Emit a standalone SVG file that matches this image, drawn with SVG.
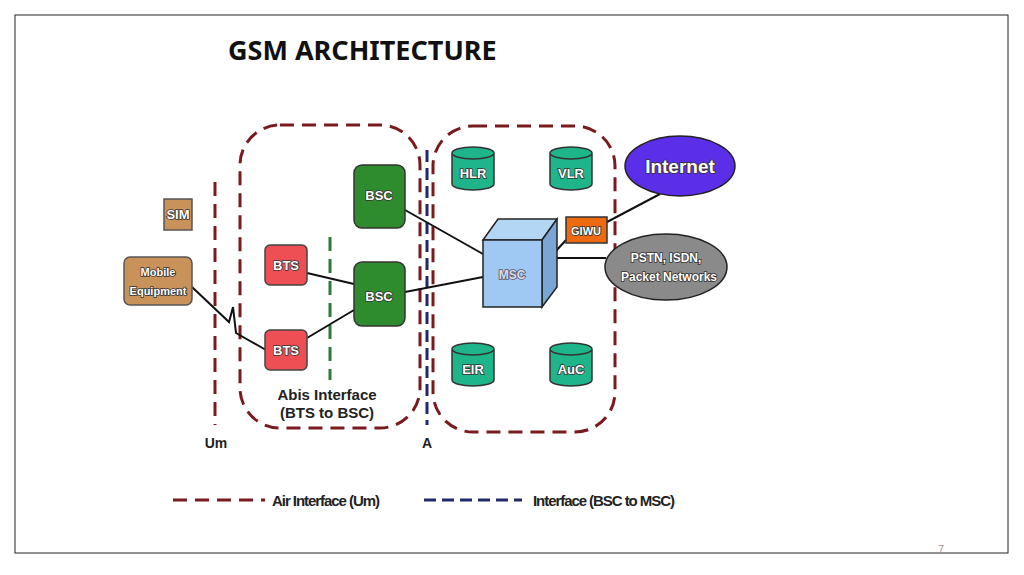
<svg xmlns="http://www.w3.org/2000/svg" width="1024" height="575" viewBox="0 0 1024 575">
<style>
text{font-family:"Liberation Sans",Arial,sans-serif;}
.lbl{font-size:13px;fill:#fff;text-anchor:middle;stroke:#333;stroke-width:1.6;paint-order:stroke;font-weight:bold}
.red{fill:none;stroke:#7a1a1f;stroke-width:3;stroke-dasharray:14,8}
.blue{fill:none;stroke:#1f2a6b;stroke-width:3;stroke-dasharray:12,6}
.cyl{fill:#1fb58a;stroke:#333;stroke-width:1.5}
.ln{stroke:#111;stroke-width:2;fill:none}
.dk{fill:#222;font-size:15px}
</style>
<rect x="15" y="15" width="993" height="538" fill="#fff" stroke="#222" stroke-width="1"/>
<text x="228" y="60" style="font-family:'Noto Sans','Open Sans',sans-serif" font-weight="bold" font-size="27" fill="#111">GSM ARCHITECTURE</text>
<g id="zones">
<rect class="red" x="240" y="125" width="180" height="303" rx="40"/>
<rect class="red" x="433" y="126" width="182" height="306" rx="40"/>
<line class="red" x1="215" y1="182" x2="215" y2="425"/>
<line class="blue" x1="427" y1="150" x2="427" y2="425"/>
<line x1="330" y1="237" x2="330" y2="380" stroke="#2e7a3a" stroke-width="3" stroke-dasharray="14,8"/>
</g>
<g id="connectors">
<path class="ln" d="M192,287 L229,322 L233,307 L236,333 L266,350"/>
<line class="ln" x1="307" y1="273" x2="354" y2="284"/>
<line class="ln" x1="307" y1="338" x2="354" y2="310"/>
<line class="ln" x1="405" y1="210" x2="483" y2="254"/>
<line class="ln" x1="405" y1="292" x2="483" y2="277"/>
<line class="ln" x1="555" y1="252" x2="566" y2="240"/>
<line class="ln" x1="607" y1="222" x2="660" y2="194"/>
<line class="ln" x1="557" y1="258" x2="606" y2="258"/>
</g>
<g id="sim"><rect x="164" y="199" width="28" height="31" fill="#c8925a" stroke="#555" stroke-width="1.5"/><text class="lbl" x="178" y="219" font-size="11">SIM</text></g>
<g id="me"><rect x="124" y="257" width="68" height="48" rx="6" fill="#c8925a" stroke="#555" stroke-width="1.5"/><text class="lbl" x="158" y="276" style="font-size:11px">Mobile</text><text class="lbl" x="158" y="295" style="font-size:11px">Equipment</text></g>
<g id="bts1"><rect x="265" y="245" width="42" height="40" rx="5" fill="#ee4f55" stroke="#444" stroke-width="1.5"/><text class="lbl" x="286" y="270">BTS</text></g>
<g id="bts2"><rect x="265" y="330" width="42" height="40" rx="5" fill="#ee4f55" stroke="#444" stroke-width="1.5"/><text class="lbl" x="286" y="355">BTS</text></g>
<g id="bsc1"><rect x="354" y="165" width="51" height="63" rx="8" fill="#2e8b2e" stroke="#333" stroke-width="1.5"/><text class="lbl" x="379" y="200">BSC</text></g>
<g id="bsc2"><rect x="354" y="262" width="51" height="64" rx="8" fill="#2e8b2e" stroke="#333" stroke-width="1.5"/><text class="lbl" x="379" y="301">BSC</text></g>
<g id="msc">
<polygon points="483,240 498,219 557,219 542,240" fill="#b3d6f5" stroke="#222" stroke-width="1.5"/>
<polygon points="542,240 557,219 557,287 542,307" fill="#7aa6d6" stroke="#222" stroke-width="1.5"/>
<rect x="483" y="240" width="59" height="67" fill="#9fc9f2" stroke="#222" stroke-width="1.5"/>
<text class="lbl" x="512" y="279" style="font-size:12px;fill:#dde;stroke:#556">MSC</text>
</g>
<g id="giwu"><rect x="566" y="217" width="41" height="26" fill="#ee6a10" stroke="#333" stroke-width="1.5"/><text class="lbl" x="586" y="235" style="font-size:11px">GIWU</text></g>
<g id="internet"><ellipse cx="680" cy="166" rx="55" ry="30" fill="#5b2ee8" stroke="#222" stroke-width="1.5"/><text class="lbl" x="680" y="173" style="font-size:19px">Internet</text></g>
<g id="pstn"><ellipse cx="666" cy="267" rx="61" ry="33" fill="#8a8a8a" stroke="#222" stroke-width="1.5"/><text class="lbl" x="666" y="262" style="font-size:12px">PSTN, ISDN,</text><text class="lbl" x="669" y="281" style="font-size:12px">Packet Networks</text></g>
<g id="hlr"><path class="cyl" d="M452,153 v31 a21,6 0 0 0 42,0 v-31 a21,6 0 0 0 -42,0 a21,6 0 0 0 42,0"/><text class="lbl" x="473" y="178">HLR</text></g>
<g id="vlr"><path class="cyl" d="M550,153 v31 a21,6 0 0 0 42,0 v-31 a21,6 0 0 0 -42,0 a21,6 0 0 0 42,0"/><text class="lbl" x="571" y="178">VLR</text></g>
<g id="eir"><path class="cyl" d="M452,349 v31 a21,6 0 0 0 42,0 v-31 a21,6 0 0 0 -42,0 a21,6 0 0 0 42,0"/><text class="lbl" x="473" y="374">EIR</text></g>
<g id="auc"><path class="cyl" d="M550,349 v31 a21,6 0 0 0 42,0 v-31 a21,6 0 0 0 -42,0 a21,6 0 0 0 42,0"/><text class="lbl" x="571" y="374">AuC</text></g>
<g id="labels">
<text class="dk" x="327" y="400" text-anchor="middle" font-weight="bold">Abis Interface</text>
<text class="dk" x="327" y="418" text-anchor="middle" font-weight="bold">(BTS to BSC)</text>
<text class="dk" x="216" y="448" text-anchor="middle" font-weight="bold" style="font-size:14px">Um</text>
<text class="dk" x="427" y="448" text-anchor="middle" font-weight="bold" style="font-size:14px">A</text>
</g>
<g id="legend">
<line class="red" x1="173" y1="500" x2="265" y2="500"/>
<text class="dk" x="272" y="506" font-weight="bold" textLength="108">Air Interface (Um)</text>
<line class="blue" x1="424" y1="500" x2="522" y2="500"/>
<text class="dk" x="533" y="506" font-weight="bold" textLength="142">Interface (BSC to MSC)</text>
</g>
<text x="941" y="553" font-size="11" fill="#999" text-anchor="middle">7</text>
</svg>
